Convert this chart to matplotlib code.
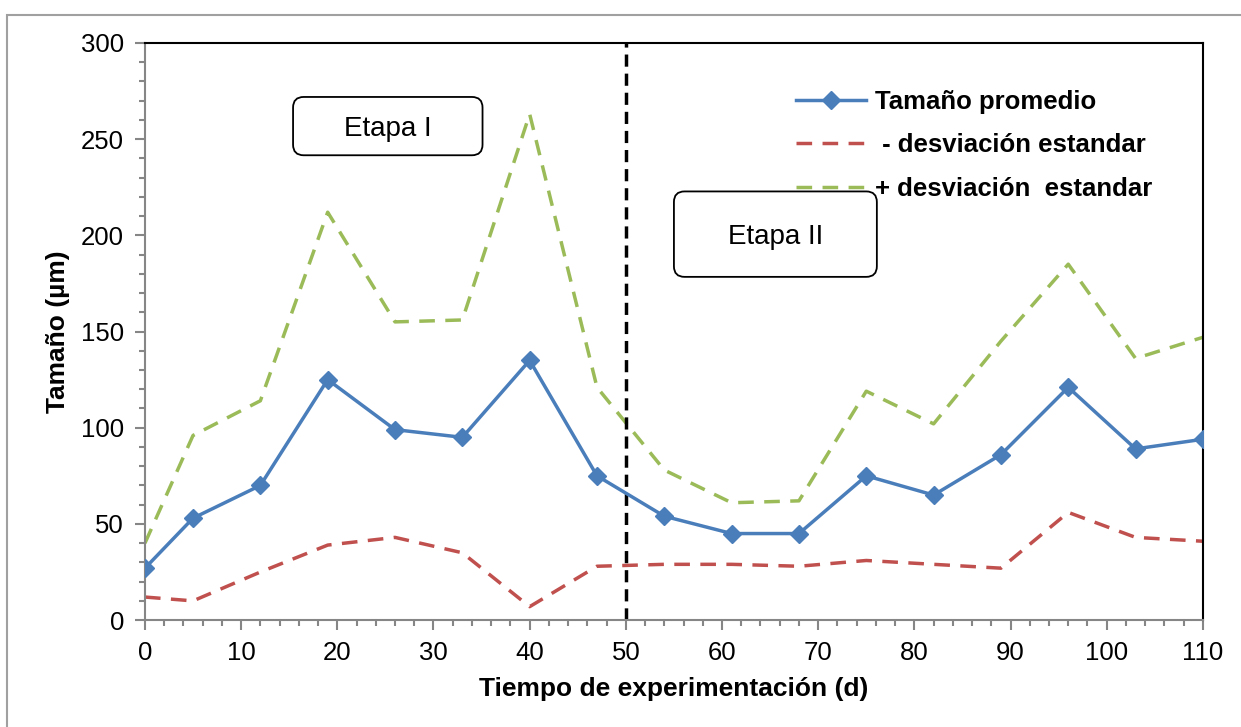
import matplotlib.pyplot as plt
from matplotlib.ticker import MultipleLocator
from matplotlib.patches import Rectangle, FancyBboxPatch

plt.rcParams['font.family'] = ['Liberation Sans', 'DejaVu Sans']

# dias de muestreo
dias = [0, 5, 12, 19, 26, 33, 40, 47, 54, 61, 68, 75, 82, 89, 96, 103, 110]
# tamano promedio de particula (um)
promedio = [27, 53, 70, 125, 99, 95, 135, 75, 54, 45, 45, 75, 65, 86, 121, 89, 94]
menos_desv = [12, 10, 25, 39, 43, 35, 7, 28, 29, 29, 28, 31, 29, 27, 56, 43, 41]
mas_desv = [40, 96, 114, 212, 155, 156, 263, 121, 78, 61, 62, 119, 102, 145, 185, 136, 147]

fig = plt.figure(figsize=(12.41, 7.27), dpi=100)
ax = fig.add_axes([0.1168, 0.147, 0.8525, 0.794])

# marco exterior (solo se ven borde izquierdo y superior)
fig.patches.append(Rectangle((7/1241, -0.1), 1.2, 1 - 15/727 + 0.1,
                             transform=fig.transFigure, fill=False,
                             edgecolor='#a0a0a0', linewidth=1.5))

ax.plot(dias, promedio, color='#4a7ebb', lw=2.5, marker='D', ms=9,
        label='Tamaño promedio', zorder=4)
ax.plot(dias, menos_desv, color='#c0504d', lw=2.5, ls=(0, (4.5, 3)),
        label=' - desviación estandar')
ax.plot(dias, mas_desv, color='#9bbb59', lw=2.5, ls=(0, (4.5, 3)),
        label='+ desviación  estandar')
ax.axvline(50, color='black', lw=2.5, ls=(0, (3.5, 2)))

ax.set_xlim(0, 110)
ax.set_ylim(0, 300)
ax.xaxis.set_major_locator(MultipleLocator(10))
ax.xaxis.set_minor_locator(MultipleLocator(2))
ax.yaxis.set_major_locator(MultipleLocator(50))
ax.yaxis.set_minor_locator(MultipleLocator(10))
ax.tick_params(which='both', direction='out', color='#868686', width=1.5)
ax.tick_params(which='major', length=7, labelsize=18.5, pad=8)
ax.tick_params(which='minor', length=4)
ax.spines['left'].set_color('#868686')
ax.spines['bottom'].set_color('#868686')
ax.spines['left'].set_linewidth(1.5)
ax.spines['bottom'].set_linewidth(1.5)
ax.spines['top'].set_linewidth(1.5)
ax.spines['right'].set_linewidth(1.5)

ax.set_xlabel('Tiempo de experimentación (d)', fontsize=19, fontweight='bold', labelpad=9)
ax.set_ylabel('Tamaño (µm)', fontsize=19, fontweight='bold', labelpad=8)

# cajas de las etapas (en coordenadas de datos)
etapas = [('Etapa I', 15.4, 241.6, 19.7, 30.3),
          ('Etapa II', 55.0, 178.4, 21.1, 44.4)]
for nombre, x0, y0, w, h in etapas:
    caja = FancyBboxPatch((x0, y0), w, h, boxstyle='round,pad=0,rounding_size=1.1',
                          mutation_aspect=5.0, facecolor='white', edgecolor='black',
                          linewidth=1.3, zorder=5)
    ax.add_patch(caja)
    ax.text(x0 + w / 2, y0 + h / 2 - 1.5, nombre, fontsize=20, ha='center', va='center',
            zorder=6)

ax.legend(loc='upper left', bbox_to_anchor=(0.606, 0.937), frameon=False,
          prop={'size': 18.5, 'weight': 'bold'}, handlelength=2.7,
          handletextpad=0.35, labelspacing=0.76, borderaxespad=0)

fig.savefig('out.png', dpi=100)
